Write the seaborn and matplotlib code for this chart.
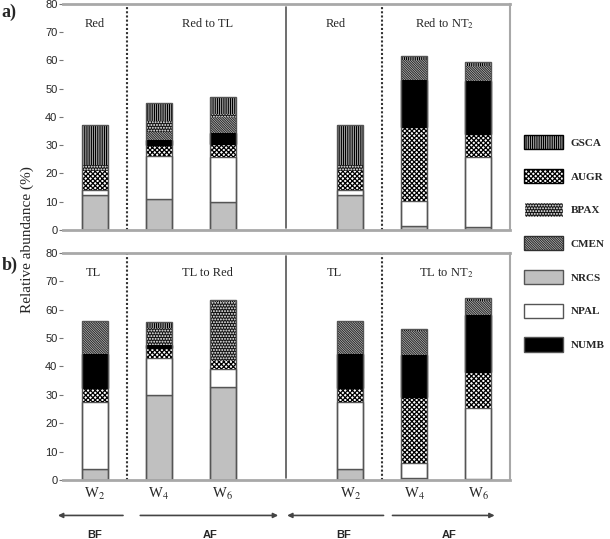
import numpy as np
import pandas as pd
import matplotlib
matplotlib.use("Agg")
import matplotlib.pyplot as plt
from matplotlib.patches import Patch
import seaborn as sns

# bar slots (slot 3 is the empty gap between the two treatments)
slots = [0, 1, 2, 4, 5, 6]
week_labels = ["W$_{2}$", "W$_{4}$", "W$_{6}$", "W$_{2}$", "W$_{4}$", "W$_{6}$"]

# stacking order, bottom to top
species = ["NRCS", "NPAL", "AUGR", "NUMB", "CMEN", "BPAX", "GSCA"]

# a) Red / Red to TL / Red / Red to NT2
top_nrcs = [12.3, 10.9, 10.0, 12.3, 1.5, 1.2]
top_npal = [1.8, 15.4, 15.7, 1.8, 8.9, 24.7]
top_augr = [6.8, 3.8, 4.8, 6.8, 26.2, 8.0]
top_numb = [0.0, 1.8, 4.0, 0.0, 16.5, 18.9]
top_cmen = [0.0, 2.9, 5.5, 0.0, 7.1, 5.4]
top_bpax = [2.0, 3.8, 1.2, 2.0, 0.0, 0.0]
top_gsca = [14.1, 6.2, 5.7, 14.1, 1.5, 1.2]

# b) TL / TL to Red / TL / TL to NT2
bot_nrcs = [3.8, 29.9, 32.9, 3.8, 0.6, 0.2]
bot_npal = [23.7, 13.2, 6.2, 23.7, 5.3, 25.1]
bot_augr = [5.0, 3.4, 2.9, 5.0, 23.5, 12.9]
bot_numb = [12.0, 1.0, 0.0, 12.0, 14.7, 20.0]
bot_cmen = [11.7, 0.0, 0.0, 11.7, 8.3, 5.0]
bot_bpax = [0.0, 6.0, 20.9, 0.0, 0.0, 0.0]
bot_gsca = [0.0, 2.2, 0.4, 0.0, 0.8, 0.9]

top_groups = [(0, "Red"), (1.76, "Red to TL"), (3.77, "Red"), (5.47, "Red to NT$_{2}$")]
bot_groups = [(-0.03, "TL"), (1.76, "TL to Red"), (3.75, "TL"), (5.5, "TL to NT$_{2}$")]

styles = {
    "NRCS": dict(facecolor="#c0c0c0", edgecolor="#555555", hatch=None),
    "NPAL": dict(facecolor="white", edgecolor="#555555", hatch=None),
    "AUGR": dict(facecolor="white", edgecolor="black", hatch="xxxxxxx"),
    "NUMB": dict(facecolor="black", edgecolor="black", hatch=None),
    "CMEN": dict(facecolor="white", edgecolor="#303030", hatch="\\" * 14),
    "BPAX": dict(facecolor="#151515", edgecolor="white", hatch="......"),
    "GSCA": dict(facecolor="white", edgecolor="black", hatch="|" * 9),
}

sns.set_style("ticks")
plt.rcParams["font.family"] = ["Liberation Serif", "DejaVu Serif"]
plt.rcParams["mathtext.fontset"] = "stix"
plt.rcParams["hatch.linewidth"] = 0.9

SANS = ["Liberation Sans", "DejaVu Sans"]
GRID = "#a8a8a8"


def stacked_panel(ax, layers):
    df = pd.DataFrame(layers, columns=species)
    df["slot"] = slots
    base = np.zeros(len(df))
    for name in species:
        vals = df[name].to_numpy()
        keep = vals > 0
        sub = pd.DataFrame({"slot": df["slot"][keep], "val": vals[keep]})
        st = styles[name]
        lw = 0.0 if st["hatch"] else 1.0
        sns.barplot(data=sub, x="slot", y="val", native_scale=True, width=0.41,
                    errorbar=None, ax=ax, color=st["facecolor"], saturation=1,
                    bottom=base[keep], facecolor=st["facecolor"],
                    edgecolor=st["edgecolor"], hatch=st["hatch"], linewidth=lw)
        base = base + vals
    # outline each full bar in gray
    ax.bar(slots, base, width=0.41, fill=False, edgecolor="#555555", linewidth=1.0)


def style_panel(ax, groups):
    ax.set_xlim(-0.5, 6.5)
    ax.set_ylim(0, 80)
    ax.set_yticks(range(0, 81, 10))
    ax.set_yticklabels([str(v) for v in range(0, 81, 10)], family=SANS, fontsize=8)
    ax.tick_params(axis="y", length=3, width=0.8, color="#777777", pad=1)
    ax.set_xlabel("")
    ax.set_ylabel("")
    ax.spines["left"].set_visible(False)
    for side in ["top", "bottom"]:
        ax.spines[side].set_color(GRID)
        ax.spines[side].set_linewidth(2)
    ax.spines["right"].set_color(GRID)
    ax.spines["right"].set_linewidth(1.5)
    ax.axvline(0.5, ymin=0, ymax=1, color="#333333", linestyle=(0, (1, 1)), linewidth=1.5)
    ax.axvline(4.5, ymin=0, ymax=1, color="#333333", linestyle=(0, (1, 1)), linewidth=1.5)
    ax.axvline(3, ymin=0.01, ymax=0.985, color="#555555", linewidth=1.2)
    for x, txt in groups:
        ax.text(x, 73, txt, ha="center", va="center", fontsize=9)


fig = plt.figure(figsize=(6.1, 5.39), dpi=100)
ax_a = fig.add_axes([0.1033, 0.5733, 0.7327, 0.4193])
ax_b = fig.add_axes([0.1033, 0.1095, 0.7327, 0.4211])

stacked_panel(ax_a, list(zip(top_nrcs, top_npal, top_augr, top_numb, top_cmen, top_bpax, top_gsca)))
stacked_panel(ax_b, list(zip(bot_nrcs, bot_npal, bot_augr, bot_numb, bot_cmen, bot_bpax, bot_gsca)))
style_panel(ax_a, top_groups)
style_panel(ax_b, bot_groups)

ax_a.set_xticks([])
ax_b.set_xticks(slots)
ax_b.set_xticklabels(week_labels, fontsize=10.5)
ax_b.tick_params(axis="x", length=0, pad=4)

# BF / AF arrows under the lower panel
arrows = [(0.44, -0.58), (0.71, 2.87), (4.52, 3.01), (4.66, 6.26)]
for x0, x1 in arrows:
    ax_b.annotate("", xy=(x1, -12.5), xytext=(x0, -12.5), xycoords="data",
                  annotation_clip=False,
                  arrowprops=dict(arrowstyle="-|>", color="#444444", lw=1.2,
                                  mutation_scale=7, shrinkA=0, shrinkB=0))
for x, txt in [(0, "BF"), (1.8, "AF"), (3.9, "BF"), (5.55, "AF")]:
    ax_b.text(x, -19.5, txt, ha="center", va="center", fontsize=8,
              fontweight="bold", family=SANS, clip_on=False)

fig.text(0.045, 0.555, "Relative abundance (%)", rotation=90, ha="center",
         va="center", fontsize=11)
fig.text(0.003, 0.977, "a)", fontsize=13, fontweight="bold", va="center")
fig.text(0.003, 0.508, "b)", fontsize=13, fontweight="bold", va="center")

legend_order = ["GSCA", "AUGR", "BPAX", "CMEN", "NRCS", "NPAL", "NUMB"]
handles = [Patch(facecolor=styles[n]["facecolor"],
                 edgecolor=styles[n]["edgecolor"] if styles[n]["hatch"] else "#555555",
                 hatch=styles[n]["hatch"], linewidth=1.0, label=n)
           for n in legend_order]
fig.legend(handles=handles, loc="upper left", bbox_to_anchor=(0.843, 0.768),
           frameon=False, handlelength=3.5, handleheight=1.6, labelspacing=1.75,
           handletextpad=0.7, prop=dict(weight="bold", size=8))

fig.savefig("out.png", dpi=100)
